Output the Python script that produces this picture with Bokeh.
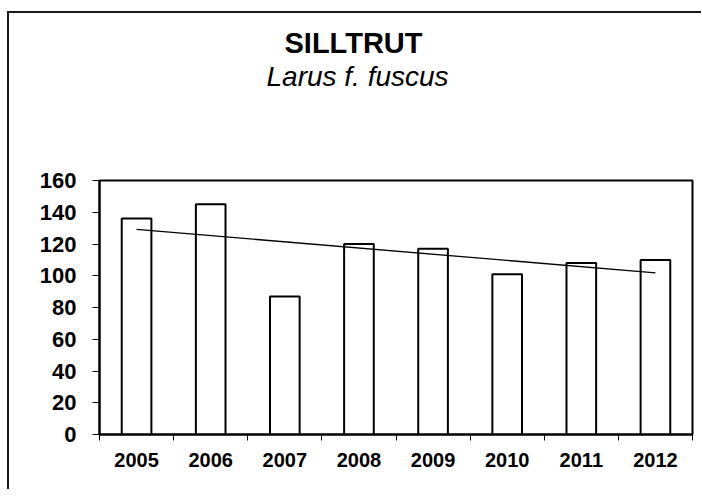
import numpy as np
from bokeh.plotting import figure
from bokeh.models import (ColumnDataSource, Range1d, LinearAxis, FixedTicker, Title)
from bokeh.embed import file_html
from bokeh.resources import INLINE

years = ["2005", "2006", "2007", "2008", "2009", "2010", "2011", "2012"]
counts = [136, 145, 87, 120, 117, 101, 108, 110]
y_ticks = [0, 20, 40, 60, 80, 100, 120, 140, 160]
title_text = "SILLTRUT"
subtitle_text = "Larus f. fuscus"

n = len(years)
xc = [i + 0.5 for i in range(n)]
src = ColumnDataSource(dict(x=xc, top=counts))

# linear trend fitted to the counts
slope, intercept = np.polyfit(np.arange(n), np.array(counts, dtype=float), 1)
trend = ColumnDataSource(dict(x=[xc[0], xc[-1]],
                              y=[intercept, intercept + slope * (n - 1)]))

p = figure(width=692, height=476, output_backend="svg", toolbar_location=None,
           x_range=Range1d(0, n), y_range=Range1d(0, 160),
           min_border_left=90, min_border_right=9, min_border_top=167,
           min_border_bottom=55, frame_width=593, frame_height=254)
p.styles = {"border-left": "2px solid #1a1a1a", "border-top": "2px solid #1a1a1a",
            "margin-top": "11px", "margin-left": "7px"}
p.grid.visible = False
p.outline_line_color = "black"
p.outline_line_width = 2
p.background_fill_color = "white"
p.border_fill_color = "white"

p.vbar(x="x", top="top", bottom=0, width=0.4, source=src,
       fill_color="white", line_color="black", line_width=2)
p.line(x="x", y="y", source=trend, line_color="black", line_width=1.3)

font = "Liberation Sans"

# y axis
ya = p.yaxis[0]
ya.ticker = FixedTicker(ticks=y_ticks)
ya.axis_line_color = "black"
ya.axis_line_width = 2
ya.major_tick_out = 7
ya.major_tick_in = 0
ya.minor_tick_line_color = None
ya.major_tick_line_color = "black"
ya.major_tick_line_width = 1
ya.major_label_text_font = font
ya.major_label_text_font_style = "bold"
ya.major_label_text_font_size = "22px"
ya.major_label_text_color = "black"
ya.major_label_standoff = 16

# x axis: ticks at category boundaries
xa = p.xaxis[0]
xa.ticker = FixedTicker(ticks=list(range(n + 1)))
xa.major_label_overrides = {i: "" for i in range(n + 1)}
xa.major_label_text_font_size = "0px"
xa.axis_line_color = "black"
xa.axis_line_width = 2
xa.major_tick_out = 6
xa.major_tick_in = 0
xa.minor_tick_line_color = None
xa.major_tick_line_color = "black"
xa.major_label_standoff = 0

# x labels at category centres
xl = LinearAxis(ticker=FixedTicker(ticks=xc),
                major_label_overrides={c: y for c, y in zip(xc, years)})
xl.axis_line_color = None
xl.major_tick_line_color = None
xl.minor_tick_line_color = None
xl.major_tick_out = 0
xl.major_tick_in = 0
xl.major_label_standoff = 12
xl.major_label_text_font = font
xl.major_label_text_font_style = "bold"
xl.major_label_text_font_size = "20px"
xl.major_label_text_color = "black"
p.add_layout(xl, "below")

# titles (a blank spacer title keeps them clear of the plot frame)
p.add_layout(Title(text=" ", standoff=86, text_font_size="1px"), "above")
p.add_layout(Title(text=subtitle_text, align="left", offset=167, standoff=0,
                   text_font=font, text_font_style="italic", text_font_size="28px",
                   text_color="black"), "above")
p.add_layout(Title(text=title_text, align="left", offset=185, standoff=0,
                   text_font=font, text_font_style="bold", text_font_size="29px",
                   text_color="black"), "above")

open("out.html", "w").write(file_html(p, INLINE))
